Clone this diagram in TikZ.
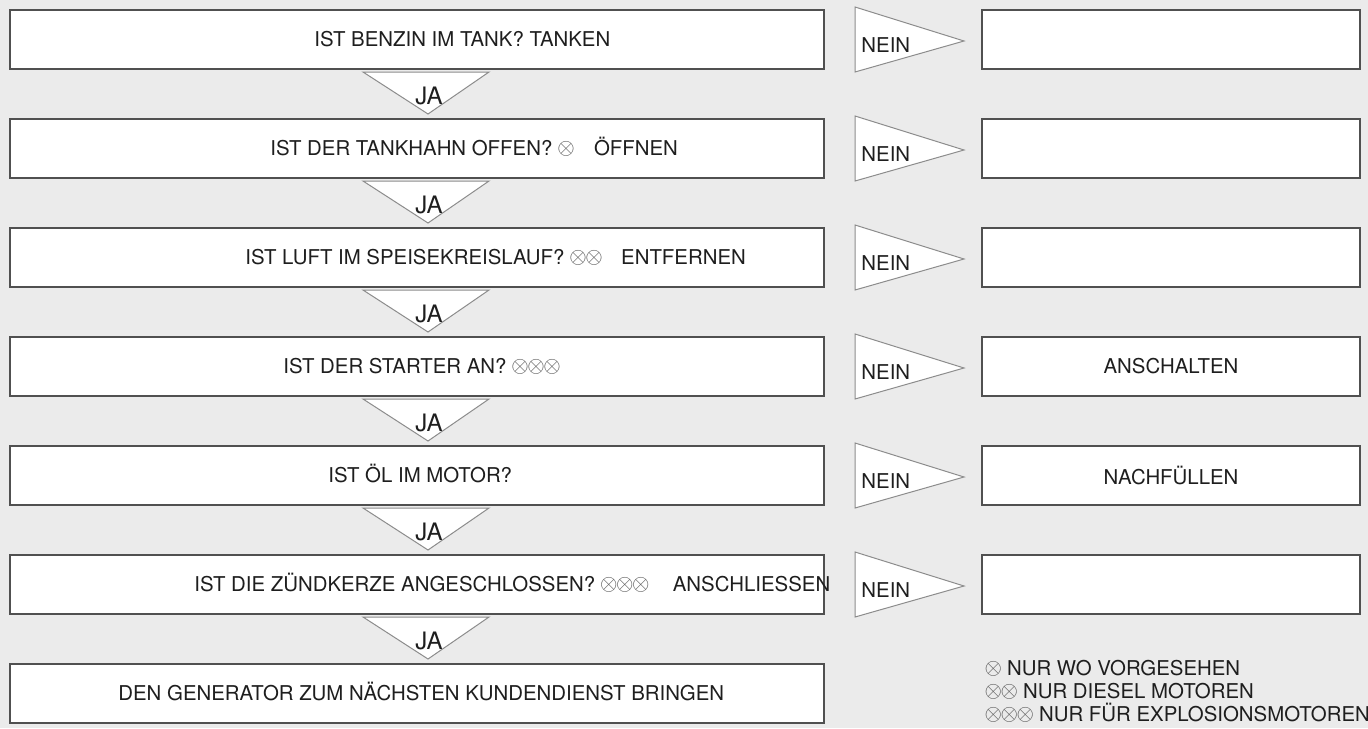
\documentclass[tikz,border=0pt]{standalone}
\usepackage{fontspec}
\setmainfont{TeX Gyre Heros}
\usepackage{tikz}
\usetikzlibrary{calc,positioning}
\definecolor{bggray}{HTML}{EBEBEB}
\definecolor{boxgray}{HTML}{505050}
\definecolor{trigray}{HTML}{8C8C8C}
\definecolor{inkgray}{HTML}{1E1E1E}
\definecolor{symgray}{HTML}{555555}
\newcommand{\ox}{\makebox[8pt]{\color{symgray}\raisebox{0.6pt}{\scalebox{1.12}{$\otimes$}}}}

\begin{document}
\begin{tikzpicture}[x=0.5pt,y=-0.5pt,
  font=\fontsize{10.2}{12}\selectfont,text=inkgray,
  qbox/.style={draw=boxgray,fill=white,line width=1pt,minimum width=407pt,minimum height=29.5pt,inner sep=0pt,outer sep=0pt},
  abox/.style={qbox,minimum width=189pt},
  qtext/.style={anchor=west,inner sep=0pt,text height=7.3pt,text depth=0pt},
  tri/.style={draw=trigray,fill=white,line width=0.5pt},
  ja/.style={font=\fontsize{12}{14}\selectfont,inner sep=0pt}]
  \useasboundingbox (0,0) rectangle (1368,728);
  \fill[bggray] (0,0) rectangle (1368,728);
  % question boxes
  \node[qbox] (q1) at (417,39.5) {};
  \node[qbox,below=25pt of q1] (q2) {};
  \node[qbox,below=25pt of q2] (q3) {};
  \node[qbox,below=25pt of q3] (q4) {};
  \node[qbox,below=25pt of q4] (q5) {};
  \node[qbox,below=25pt of q5] (q6) {};
  \node[qbox,below=25pt of q6] (q7) {};
  \node[qtext] (t1) at ($(q1.west)+(304,0)$) {IST BENZIN IM TANK? TANKEN};
  \node[qtext] (t2) at ($(q2.west)+(260,0)$) {IST DER TANKHAHN OFFEN? \ox\hspace{10pt}ÖFFNEN};
  \node[qtext] (t3) at ($(q3.west)+(235,0)$) {IST LUFT IM SPEISEKREISLAUF? \ox\ox\hspace{9.5pt}ENTFERNEN};
  \node[qtext] (t4) at ($(q4.west)+(273,0)$) {IST DER STARTER AN? \ox\ox\ox};
  \node[qtext] (t5) at ($(q5.west)+(318,0)$) {IST ÖL IM MOTOR?};
  \node[qtext] (t6) at ($(q6.west)+(184,0)$) {IST DIE ZÜNDKERZE ANGESCHLOSSEN? \ox\ox\ox\hspace{12pt}ANSCHLIESSEN};
  \node[qtext] (t7) at ($(q7.west)+(108,0)$) {DEN GENERATOR ZUM NÄCHSTEN KUNDENDIENST BRINGEN};
  % answer boxes
  \node[abox,right=79pt of q1] (a1) {};
  \node[abox,right=79pt of q2] (a2) {};
  \node[abox,right=79pt of q3] (a3) {};
  \node[abox,right=79pt of q4] (a4) {ANSCHALTEN};
  \node[abox,right=79pt of q5] (a5) {NACHFÜLLEN};
  \node[abox,right=79pt of q6] (a6) {};
  % JA / NEIN arrows
  \foreach \i/\j in {1/2,2/3,3/4,4/5,5/6,6/7} {
    \draw[tri] ($(q\i.south)+(-54,3)$) -- ($(q\i.south)+(72,3)$) -- ($(q\j.north)+(11,-5)$) -- cycle;
    \node[ja] (ja\i) at ($(q\i.south)+(12,27)$) {JA};
  }
  \foreach \i in {1,...,6} {
    \draw[tri] ($(q\i.east)+(31,-32.5)$) -- ($(a\i.west)+(-18,1.5)$) -- ($(q\i.east)+(31,32.5)$) -- cycle;
    \node[qtext] (nein\i) at ($(q\i.east)+(37,6)$) {NEIN};
  }
  % footnotes
  \node[qtext] (f1) at (985,668) {\ox\ NUR WO VORGESEHEN};
  \node[qtext] (f2) at (985,691) {\ox\ox\ NUR DIESEL MOTOREN};
  \node[qtext] (f3) at (985,714) {\ox\ox\ox\ NUR FÜR EXPLOSIONSMOTOREN};
\end{tikzpicture}
\end{document}
